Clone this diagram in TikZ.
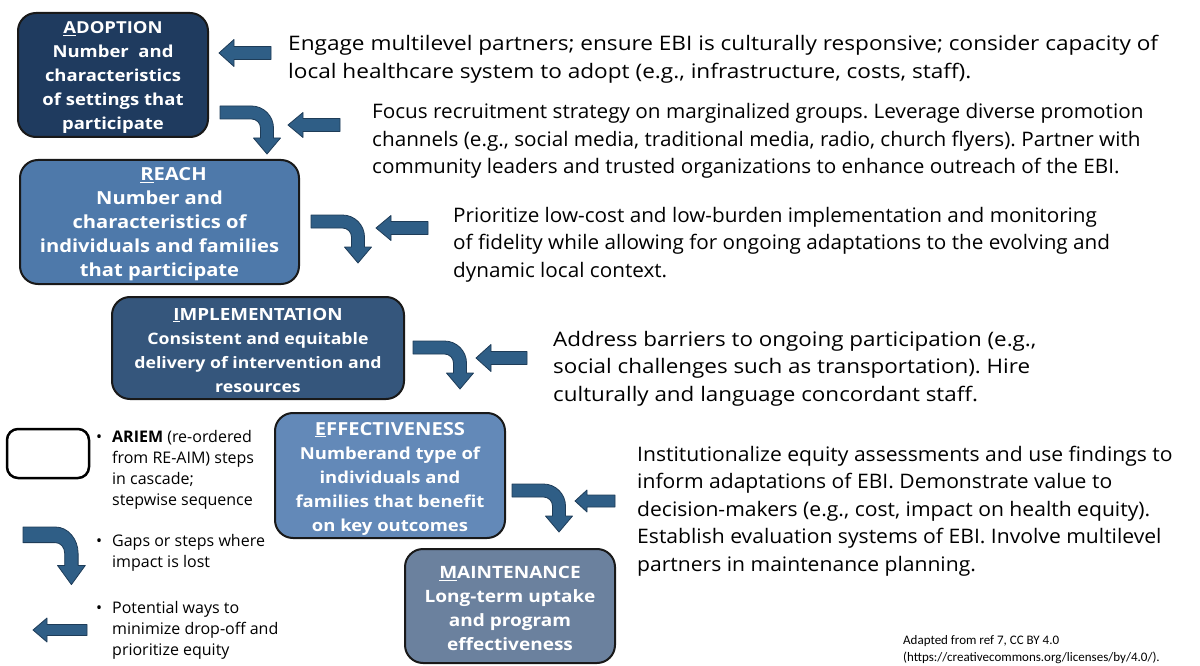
\documentclass[tikz,border=0pt]{standalone}
\usepackage{fontspec}
\setmainfont{Open Sans}
\newfontfamily\widefont{Open Sans}[FakeStretch=1.12]
\newfontfamily\fonta{Open Sans}[FakeStretch=1.13]
\newfontfamily\fontb{Open Sans}[FakeStretch=1.035]
\newfontfamily\fontc{Open Sans}[FakeStretch=1.035]
\newfontfamily\fontd{Open Sans}[FakeStretch=1.12]
\newfontfamily\fonte{Open Sans}[FakeStretch=1.055]
\newfontfamily\footfont{Carlito}
\frenchspacing
\definecolor{cadopt}{HTML}{1F3B5F}
\definecolor{creach}{HTML}{4E79AA}
\definecolor{cimpl}{HTML}{35567C}
\definecolor{ceff}{HTML}{6389B8}
\definecolor{cmaint}{HTML}{6B819E}
\definecolor{carrow}{HTML}{2F5E86}
\definecolor{carrowedge}{HTML}{1E3C58}
\newcommand\bfs[1]{\fontsize{#1}{24}\selectfont}
\tikzset{
  box/.style={draw=black!90, line width=2pt, rounded corners=18pt, inner sep=0pt},
  boxtext/.style={text=white, font=\widefont\bfseries\fontsize{#1}{24}\selectfont, align=center, inner sep=0pt},
  boxtext/.default=16.5,
  note/.style={anchor=base west, align=left, inner sep=0pt, font=#1\fontsize{20}{27.5}\selectfont},
  legtext/.style={anchor=base west, align=left, inner sep=0pt, font=\fontsize{16}{21}\selectfont},
  arrowshape/.style={fill=carrow, draw=carrowedge, line width=0.8pt, line join=round},
  bendarrow/.pic={
    \path[arrowshape] (0,0) -- (31.5,0) .. controls (43.6,0) and (53.5,9.9) .. (53.5,22)
      -- (53.5,32) -- (60.5,32) -- (47,48) -- (33.5,32) -- (40.5,32) -- (40.5,22)
      .. controls (40.5,17.03) and (36.47,13) .. (31.5,13) -- (0,13) -- cycle;
  }
}
% tip x, centre y, length, head length, head half height, shaft half height
\newcommand\leftarr[6]{%
  \path[arrowshape] (#1,#2) -- ({#1+#4},{#2-#5}) -- ({#1+#4},{#2-#6}) -- ({#1+#3},{#2-#6})
    -- ({#1+#3},{#2+#6}) -- ({#1+#4},{#2+#6}) -- ({#1+#4},{#2+#5}) -- cycle;}
\begin{document}
\begin{tikzpicture}[x=1pt,y=-1pt]
\useasboundingbox[fill=white] (0,0) rectangle (1200,666);

% cascade boxes
\node[box, fill=cadopt, minimum width=190pt, minimum height=124pt] (adopt) at (113,75) {};
\node[boxtext] (adoptT) at ([yshift=-2.5pt]adopt.center)
  {\underline{A}DOPTION\\Number\ \ and\\characteristics\\of settings that\\participate};
\node[box, fill=creach, minimum width=279pt, minimum height=124pt] (reach) at (159.5,222) {};
\node[boxtext=18] (reachT) at ([yshift=-2.5pt]reach.center)
  {\hbox{\kern28pt\underline{R}EACH}\\Number and\\characteristics of\\individuals and families\\that participate};
\node[box, fill=cimpl, minimum width=292pt, minimum height=102pt] (impl) at (258,348) {};
\node[boxtext=15.8] (implT) at ([yshift=-2pt]impl.center)
  {\bfs{16.8}\underline{I}MPLEMENTATION\\Consistent and equitable\\delivery of intervention and\\resources};
\node[box, fill=ceff, minimum width=230pt, minimum height=125pt] (eff) at (390,475.5) {};
\node[boxtext] (effT) at ([yshift=-3pt]eff.center)
  {\bfs{18}\underline{E}FFECTIVENESS\\Numberand type of\\individuals and\\families that benefit\\on key outcomes};
\node[box, fill=cmaint, minimum width=210pt, minimum height=114pt] (maint) at (510,606) {};
\node[boxtext=17] (maintT) at ([yshift=-2.5pt]maint.center)
  {\underline{M}AINTENANCE\\Long-term uptake\\and program\\effectiveness};

% bent arrows (drop-off)
\pic at (220,106) {bendarrow};
\pic at (311,215) {bendarrow};
\pic at (413,341) {bendarrow};
\pic at (512,484) {bendarrow};

% left arrows
\leftarr{219}{53}{52}{15}{13.5}{6.5}
\leftarr{288}{125}{52}{15}{12.5}{6.5}
\leftarr{376}{228}{52}{15}{12.5}{6.5}
\leftarr{476}{358}{51}{15}{13.5}{6.5}
\leftarr{575}{501}{40}{12}{11}{6}

% notes (anchor = baseline of last line)
\node[note=\fonta] (n1) at (288,78.5) {Engage multilevel partners; ensure EBI is culturally responsive; consider capacity of\\local healthcare system to adopt (e.g., infrastructure, costs, staff).};
\node[note=\fontb] (n2) at (372,174) {Focus recruitment strategy on marginalized groups. Leverage diverse promotion\\channels (e.g., social media, traditional media, radio, church flyers). Partner with\\community leaders and trusted organizations to enhance outreach of the EBI.};
\node[note=\fontc] (n3) at (453,277) {Prioritize low-cost and low-burden implementation and monitoring\\of fidelity while allowing for ongoing adaptations to the evolving and\\dynamic local context.};
\node[note=\fontd] (n4) at (553,401) {Address barriers to ongoing participation (e.g.,\\social challenges such as transportation). Hire\\culturally and language concordant staff.};
\node[note=\fonte] (n5) at (637,571) {Institutionalize equity assessments and use findings to\\inform adaptations of EBI. Demonstrate value to\\decision-makers (e.g., cost, impact on health equity).\\Establish evaluation systems of EBI. Involve multilevel\\partners in maintenance planning.};

% legend
\node[draw=black, line width=2.5pt, rounded corners=11pt, fill=white, minimum width=82pt, minimum height=49pt, inner sep=0pt] (legbox) at (48,453.5) {};
\pic[xscale=1.03, yscale=1.2] at (23,527) {bendarrow};
\leftarr{33}{630}{54}{14}{12}{5.5}
\node[legtext] (b1) at (96,442) {\textbullet};
\node[legtext] (l1) at (112,505) {\textbf{ARIEM} (re-ordered\\from RE-AIM) steps\\in cascade;\\stepwise sequence};
\node[legtext] (b2) at (96,546) {\textbullet};
\node[legtext] (l2) at (112,567) {Gaps or steps where\\impact is lost};
\node[legtext] (b3) at (96,613) {\textbullet};
\node[legtext] (l3) at (112,655) {Potential ways to\\minimize drop-off and\\prioritize equity};

% footer
\node[anchor=base west, align=left, inner sep=0pt, font=\footfont\fontsize{13}{17}\selectfont] (foot) at (903,661)
  {Adapted from ref 7, CC BY 4.0\\(https://creativecommons.org/licenses/by/4.0/).};
\end{tikzpicture}
\end{document}
